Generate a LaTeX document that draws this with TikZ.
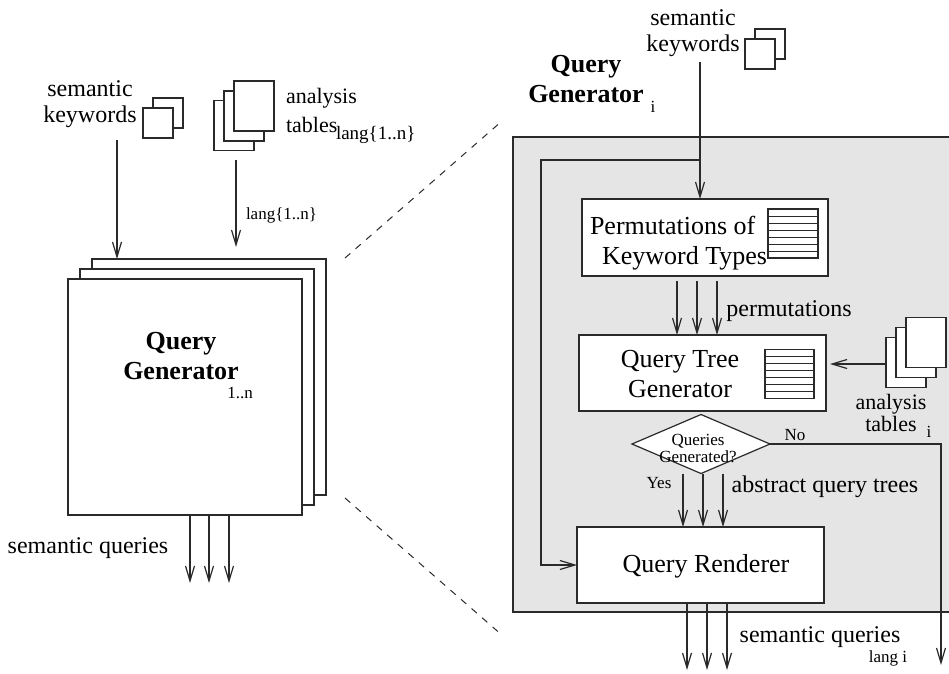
\documentclass[tikz,border=0pt]{standalone}
\usepackage{fontspec}
\setmainfont{Liberation Serif}
\usetikzlibrary{arrows.meta,shapes.geometric}
\newcommand\fsz[2]{\fontsize{#1}{#2}\selectfont}
\definecolor{panel}{HTML}{E5E5E5}
\definecolor{ink}{HTML}{2A2A2A}
\begin{document}
\begin{tikzpicture}[x=1pt,y=-1pt,
  every node/.style={inner sep=0pt, outer sep=0pt},
  ln/.style={line width=1.2pt, draw=ink},
  arr/.style={ln, -{Straight Barb[length=15pt,width=9pt]}},
  sheet/.style={ln, fill=white, minimum width=40pt, minimum height=50pt},
  card/.style={ln, fill=white, minimum width=30pt, minimum height=30pt},
  box/.style={ln, fill=white},
  lbl/.style={font=\fsz{24}{26}, align=center},
  boxtxt/.style={font=\fsz{26}{30}, align=center},
  small/.style={font=\fsz{17}{17}, align=center},
  bigb/.style={font=\fsz{26}{30}\bfseries, align=center},
  zoomline/.style={line width=1pt, draw=ink, dash pattern=on 7pt off 7pt},
]
\useasboundingbox (0,0) rectangle (949,673);
\clip (0,0) rectangle (949,673);

% ---------------- left: stacked query generators ----------------
\node[lbl] (kwL) at (90,104) {semantic\\keywords};
\node[card] (kcL2) at (168,113) {};
\node[card] (kcL1) at (158,123) {};

\node[sheet] (tbL3) at (234,125.5) {};
\node[sheet] (tbL2) at (244,116) {};
\node[sheet] (tbL1) at (254,106) {};
\node[font=\fsz{22}{29}, align=left, anchor=west] (atL) at (286,110) {analysis\\tables};
\node[font=\fsz{19}{19}, anchor=west] (atLsub) at (336,135) {lang\{1..n\}};

\node[box, minimum width=234pt, minimum height=236pt] (gB) at (209,377) {};
\node[box, minimum width=234pt, minimum height=236pt] (gM) at (197,387) {};
\node[box, minimum width=234pt, minimum height=236pt] (gF) at (185,397) {};
\node[bigb] (qgL) at (181,356) {Query\\Generator};
\node[small] (qgLsub) at (240,393) {1..n};

\coordinate (kL) at (117,140);
\draw[arr] (kL) -- (kL |- gB.north);
\coordinate (tL) at (236,160);
\coordinate (tLend) at (236,247);
\draw[arr] (tL) -- (tLend);
\node[small, anchor=west] (langL) at (246,215) {lang\{1..n\}};

\foreach \x/\n in {190/a,209/b,229/c}{
  \coordinate (oL\n) at (\x,583);
  \draw[arr] (gF.south -| oL\n) -- (oL\n);
}
\node[lbl] (sqL) at (88,548) {semantic queries};

% zoom guides
\coordinate (dA) at (345,258);
\coordinate (dB) at (502,121);
\coordinate (dC) at (345,498);
\coordinate (dD) at (503,636);
\draw[zoomline] (dA) -- (dB);
\draw[zoomline] (dC) -- (dD);

% ---------------- right: one query generator ----------------
\node[ln, fill=panel, minimum width=447pt, minimum height=475pt] (pan) at (736.5,374.5) {};
\node[bigb] (qgR) at (586,79) {Query\\Generator};
\node[small] (qgRsub) at (653,107) {i};

\node[lbl] (kwR) at (693,33) {semantic\\keywords};
\node[card] (kcR2) at (770,44) {};
\node[card] (kcR1) at (760,54) {};

% Permutations of Keyword Types
\node[box, minimum width=246pt, minimum height=77pt] (perm) at (705,237.5) {};
\node[boxtxt, align=left, anchor=west] (permtxt) at (590,243) {Permutations of\\\hspace*{12pt}Keyword Types};
\draw[ln, fill=white] (768,209) rectangle (818,258);
\foreach \k in {1,...,6} \draw[ln, line width=1pt] (768,209+\k*7) -- (818,209+\k*7);

% Query Tree Generator
\node[box, minimum width=247pt, minimum height=76pt] (qtg) at (702.5,373) {};
\node[boxtxt] (qtgtxt) at (680,374) {Query Tree\\Generator};
\draw[ln, fill=white] (765,349.5) rectangle (814,398.5);
\foreach \k in {1,...,6} \draw[ln, line width=1pt] (765,349.5+\k*7) -- (814,349.5+\k*7);

% Query Renderer
\node[box, minimum width=247pt, minimum height=76pt] (qr) at (700.5,565) {};
\node[boxtxt] (qrtxt) at (706,566) {Query Renderer};

% keyword input and bypass to the renderer
\coordinate (kR) at (700,62);
\draw[arr] (kR) -- (kR |- perm.north);
\coordinate (fb) at (700,160);
\coordinate (fbL) at (541,160);
\draw[arr] (fb) -- (fbL) |- (qr.west);

% permutations
\foreach \x/\n in {677/a,697/b,717/c}{
  \coordinate (pm\n) at (\x,0);
  \draw[arr, shorten <=5pt] (perm.south -| pm\n) -- (qtg.north -| pm\n);
}
\node[lbl] (permlbl) at (789,311) {permutations};

% analysis tables for language i
\node[sheet] (tbR3) at (906,362.5) {};
\node[sheet] (tbR2) at (916,352.5) {};
\node[sheet] (tbR1) at (926,342.5) {};
\node[font=\fsz{22}{22}, align=center] (atR) at (891,413) {analysis\\tables};
\node[small] (atRsub) at (929,432) {i};
\coordinate (aR) at (0,364);
\draw[arr, shorten >=4pt] (tbR3.west |- aR) -- (qtg.east |- aR);

% decision
\node[ln, fill=white, diamond, aspect=2.34, minimum width=138pt, minimum height=59pt] (dia) at (701,444) {};
\node[small] (diatxt) at (698,448) {Queries\\Generated?};
\node[small] (no) at (795,435) {No};
\node[small] (yes) at (659,483) {Yes};
\coordinate (noEnd) at (941,665);
\draw[arr] (dia.east) -| (noEnd);

\foreach \x/\n in {683/a,703/b,723/c}{
  \coordinate (aq\n) at (\x,0);
  \draw[arr] (dia.south -| aq\n) -- (qr.north -| aq\n);
}
\node[lbl] (aqt) at (825,487) {abstract query trees};

% output
\foreach \x/\n in {687/a,707/b,727/c}{
  \coordinate (oR\n) at (\x,670);
  \draw[arr] (qr.south -| oR\n) -- (oR\n);
}
\node[lbl] (sqR) at (820,637) {semantic queries};
\node[small] (sqRsub) at (888,658) {lang i};
\end{tikzpicture}
\end{document}
